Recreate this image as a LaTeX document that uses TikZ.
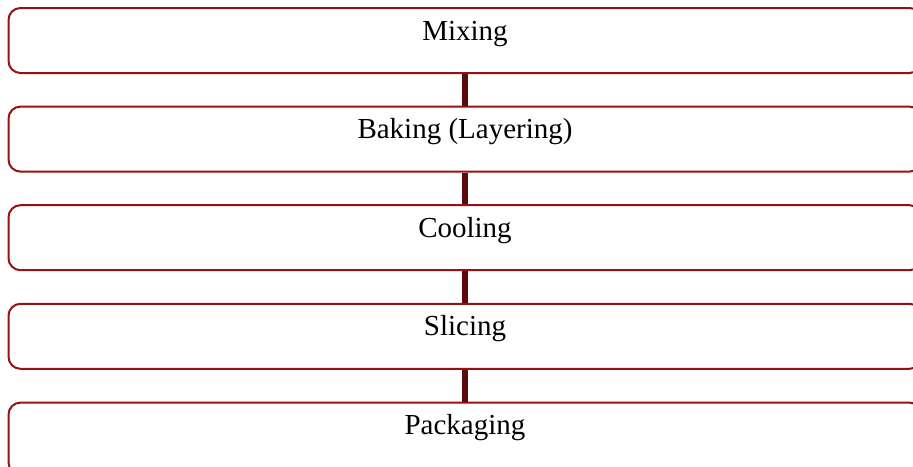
\documentclass[tikz,border=0pt]{standalone}
\usepackage{fontspec}
\setmainfont{Liberation Serif}
\definecolor{boxred}{RGB}{150,18,18}
\definecolor{linkred}{RGB}{92,10,12}
\begin{document}
\begin{tikzpicture}[x=1pt,y=-1pt,
  stagebox/.style={draw=boxred,line width=2pt,rounded corners=12pt,minimum width=913pt,minimum height=65pt,inner sep=0pt,fill=white},
  stagetext/.style={anchor=base,font=\fontsize{29}{34}\selectfont,text=black,inner sep=0pt},
  link/.style={draw=linkred,line width=5.5pt}]
\useasboundingbox (0,0) rectangle (913,466);
\clip (0,0) rectangle (913,466);
\node[stagebox] (b1) at (465,40.5) {};
\node[stagebox] (b2) at (465,139.1) {};
\node[stagebox] (b3) at (465,237.7) {};
\node[stagebox] (b4) at (465,336.3) {};
\node[stagebox,minimum height=72pt] (b5) at (465,438.6) {};
\node[stagetext] (t1) at (465,40) {Mixing};
\node[stagetext] (t2) at (465,138.6) {Baking (Layering)};
\node[stagetext] (t3) at (465,237.2) {Cooling};
\node[stagetext] (t4) at (465,335.8) {Slicing};
\node[stagetext] (t5) at (465,434.4) {Packaging};
\draw[link] (b1.south) -- (b2.north);
\draw[link] (b2.south) -- (b3.north);
\draw[link] (b3.south) -- (b4.north);
\draw[link] (b4.south) -- (b5.north);
\end{tikzpicture}
\end{document}
